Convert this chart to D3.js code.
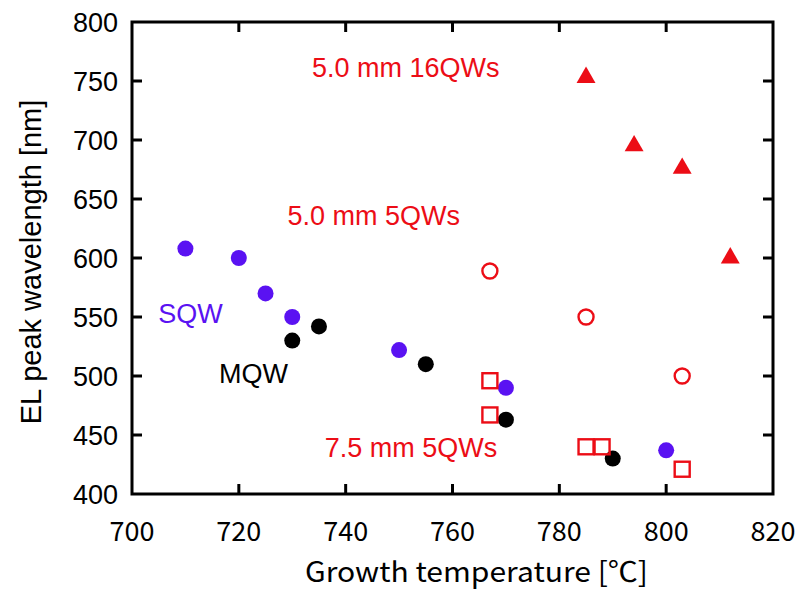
<!DOCTYPE html>
<html><head><meta charset="utf-8">
<script src="https://cdn.jsdelivr.net/npm/d3@7"></script>
<style>body{margin:0;background:#fff}</style>
</head><body>
<svg id="c" width="810" height="590"></svg>
<script>
const xTicks = [700, 720, 740, 760, 780, 800, 820];
const yTicks = [400, 450, 500, 550, 600, 650, 700, 750, 800];

const sqwT = [710, 720, 725, 730, 750, 770, 800];
const sqwW = [608, 600, 570, 550, 522, 490, 437];

const mqwT = [730, 735, 755, 770, 790];
const mqwW = [530, 542, 510, 463, 430];

const qw16T = [785, 794, 803, 812];
const qw16W = [753, 695, 676, 600];

const qw5T = [767, 785, 803];
const qw5W = [589, 550, 500];

const mm75T = [767, 767, 785, 788, 803];
const mm75W = [496, 467, 440, 440, 421];

const labels = [
  {text: "5.0 mm 16QWs", t: 733.7, w: 753.4, color: "red"},
  {text: "5.0 mm 5QWs", t: 729.1, w: 628, color: "red"},
  {text: "SQW", t: 704.9, w: 545, color: "purple"},
  {text: "MQW", t: 716.3, w: 494, color: "black"},
  {text: "7.5 mm 5QWs", t: 736.1, w: 431, color: "red"}
];

const RED = "#ec0d16", PURPLE = "#5a12f2", BLACK = "#000";
const colorMap = {red: RED, purple: PURPLE, black: BLACK};

const svg = d3.select("#c");
const L = 132, R = 773, T = 22, B = 494;
const x = d3.scaleLinear().domain([700, 820]).range([L, R]);
const y = d3.scaleLinear().domain([400, 800]).range([B, T]);

const axisFont = "Liberation Sans, Arial, sans-serif";
const jpFont = "'Noto Sans CJK JP', sans-serif";

// frame
svg.append("rect").attr("x", L).attr("y", T).attr("width", R - L).attr("height", B - T)
  .attr("fill", "none").attr("stroke", "#000").attr("stroke-width", 3);

const tl = 10;
xTicks.slice(1, -1).forEach(v => {
  svg.append("line").attr("x1", x(v)).attr("x2", x(v)).attr("y1", B).attr("y2", B - tl).attr("stroke", "#000").attr("stroke-width", 3);
  svg.append("line").attr("x1", x(v)).attr("x2", x(v)).attr("y1", T).attr("y2", T + tl).attr("stroke", "#000").attr("stroke-width", 3);
});
yTicks.slice(1, -1).forEach(v => {
  svg.append("line").attr("y1", y(v)).attr("y2", y(v)).attr("x1", L).attr("x2", L + tl).attr("stroke", "#000").attr("stroke-width", 3);
  svg.append("line").attr("y1", y(v)).attr("y2", y(v)).attr("x1", R).attr("x2", R - tl).attr("stroke", "#000").attr("stroke-width", 3);
});

// tick labels
svg.selectAll(".yl").data(yTicks).enter().append("text")
  .attr("x", 118).attr("y", d => y(d)).attr("dy", "0.36em")
  .attr("text-anchor", "end").attr("font-family", axisFont).attr("font-size", 27)
  .text(d => d);
svg.selectAll(".xl").data(xTicks).enter().append("text")
  .attr("x", d => x(d)).attr("y", 541)
  .attr("text-anchor", "middle").attr("font-family", jpFont).attr("font-size", 27)
  .text(d => d);

// axis titles
svg.append("text").attr("x", 305).attr("y", 582).attr("text-anchor", "start")
  .attr("font-family", jpFont).attr("font-size", 28)
  .attr("textLength", 343).attr("lengthAdjust", "spacingAndGlyphs")
  .text("Growth temperature [℃]");
svg.append("text").attr("transform", "translate(41,262) rotate(-90)").attr("text-anchor", "middle")
  .attr("font-family", axisFont).attr("font-size", 29).text("EL peak wavelength [nm]");

// markers
const zip = (a, b) => a.map((v, i) => [v, b[i]]);
svg.selectAll(".sqw").data(zip(sqwT, sqwW)).enter().append("circle")
  .attr("cx", d => x(d[0])).attr("cy", d => y(d[1])).attr("r", 8).attr("fill", PURPLE);
svg.selectAll(".mqw").data(zip(mqwT, mqwW)).enter().append("circle")
  .attr("cx", d => x(d[0])).attr("cy", d => y(d[1])).attr("r", 8).attr("fill", BLACK);
const tri = d3.symbol().type(d3.symbolTriangle).size(155);
svg.selectAll(".t16").data(zip(qw16T, qw16W)).enter().append("path")
  .attr("d", tri).attr("transform", d => `translate(${x(d[0])},${y(d[1])})`).attr("fill", RED);
svg.selectAll(".c5").data(zip(qw5T, qw5W)).enter().append("circle")
  .attr("cx", d => x(d[0])).attr("cy", d => y(d[1])).attr("r", 7.5).attr("fill", "none")
  .attr("stroke", RED).attr("stroke-width", 2.4);
svg.selectAll(".s75").data(zip(mm75T, mm75W)).enter().append("rect")
  .attr("x", d => x(d[0]) - 7.5).attr("y", d => y(d[1]) - 7.5).attr("width", 15).attr("height", 15)
  .attr("fill", "none").attr("stroke", RED).attr("stroke-width", 2.4);

// annotation labels
svg.selectAll(".ann").data(labels).enter().append("text")
  .attr("x", d => x(d.t)).attr("y", d => y(d.w)).attr("text-anchor", "start")
  .attr("font-family", axisFont).attr("font-size", 27)
  .attr("fill", d => colorMap[d.color]).text(d => d.text);
</script>
</body></html>
